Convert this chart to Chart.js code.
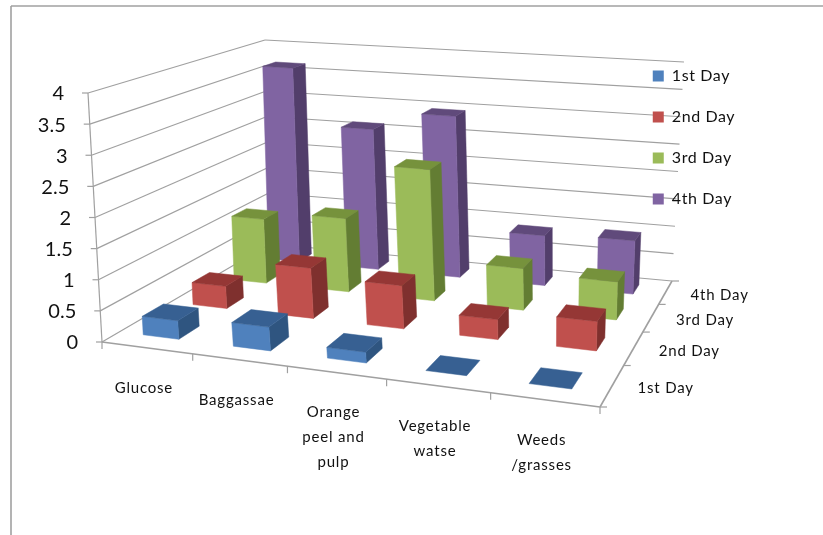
<!DOCTYPE html>
<html>
<head>
<meta charset="utf-8">
<title>Days per substrate</title>
<script src="https://cdn.jsdelivr.net/npm/chart.js@4"></script>
<style>
    html, body { margin: 0; background: #fff; }
    canvas { display: block; }
</style>
</head>
<body>
<canvas id="chart" width="823" height="535"></canvas>
<script>
const categories = [["Glucose"], ["Baggassae"], ["Orange", "peel and", "pulp"], ["Vegetable", "watse"], ["Weeds", "/grasses"]];
const dayLabels = ["1st Day", "2nd Day", "3rd Day", "4th Day"];
const firstDay = [0.3, 0.38, 0.17, 0, 0];
const secondDay = [0.38, 0.85, 0.72, 0.33, 0.48];
const thirdDay = [1.15, 1.3, 2.3, 0.72, 0.65];
const fourthDay = [3.65, 2.6, 2.95, 0.9, 0.95];
const dayValues = [firstDay, secondDay, thirdDay, fourthDay];

const frontColors = ["#4f81bd", "#c0504d", "#9bbb59", "#8064a2"];
const topColors = ["#376092", "#953735", "#76923c", "#604a7b"];
const sideColors = ["#2f5580", "#7f302e", "#637d33", "#523e6b"];

const font = "Lato, Carlito, sans-serif";
const gridColor = "#a0a0a0";

// box corners, order: front left, front right, back right, back left
const floorQuad = [[102, 342], [600, 407], [672, 281], [270, 244]];
const ceilQuad = [[88, 93], [610, 143], [684, 62], [265, 40]];
const barShare = 0.4;
const barNudge = -0.006;
const perspective = 0.75;
const depthBias = 0.2;

// unit square to quad homography, eased towards a plain bilinear patch
function makeWarp(q) {
    const [x0, y0] = q[0], [x1, y1] = q[1], [x2, y2] = q[2], [x3, y3] = q[3];
    const dx1 = x1 - x2, dx2 = x3 - x2, sx = x0 - x1 + x2 - x3;
    const dy1 = y1 - y2, dy2 = y3 - y2, sy = y0 - y1 + y2 - y3;
    const det = dx1 * dy2 - dx2 * dy1;
    const g = (sx * dy2 - dx2 * sy) / det;
    const h = (dx1 * sy - sx * dy1) / det;
    const a = x1 - x0 + g * x1, b = x3 - x0 + h * x3;
    const d = y1 - y0 + g * y1, e = y3 - y0 + h * y3;
    return function(u, depth) {
        // rows crowd together towards the back wall
        const v = depth * (1 + depthBias) / (1 + depthBias * depth);
        const w = g * u + h * v + 1;
        const bx = (1 - v) * ((1 - u) * x0 + u * x1) + v * ((1 - u) * x3 + u * x2);
        const by = (1 - v) * ((1 - u) * y0 + u * y1) + v * ((1 - u) * y3 + u * y2);
        return [
            perspective * (a * u + b * v + x0) / w + (1 - perspective) * bx,
            perspective * (d * u + e * v + y0) / w + (1 - perspective) * by
        ];
    };
}
const floorAt = makeWarp(floorQuad);
const ceilAt = makeWarp(ceilQuad);

function project(u, v, t) {
    const f = floorAt(u, v), c = ceilAt(u, v);
    return [f[0] + (c[0] - f[0]) * t, f[1] + (c[1] - f[1]) * t];
}

function poly(ctx, pts, color) {
    ctx.beginPath();
    pts.forEach((p, i) => i ? ctx.lineTo(p[0], p[1]) : ctx.moveTo(p[0], p[1]));
    ctx.closePath();
    ctx.fillStyle = color;
    ctx.strokeStyle = color;
    ctx.lineWidth = 0.5;
    ctx.fill();
    ctx.stroke();
}

function line(ctx, a, b, width) {
    ctx.beginPath();
    ctx.moveTo(a[0], a[1]);
    ctx.lineTo(b[0], b[1]);
    ctx.lineWidth = width || 1.2;
    ctx.strokeStyle = gridColor;
    ctx.stroke();
}

// position along each scale as 0..1
const xShare = (chart, i) => { const s = chart.scales.x; return (s.getPixelForValue(i) - s.left) / s.width; };
const zShare = (chart, i) => { const s = chart.scales.depth; return (s.getPixelForValue(i) - s.left) / s.width; };
const yShare = (chart, val) => { const s = chart.scales.y; return (s.bottom - s.getPixelForValue(val)) / s.height; };

const box3d = {
    id: "box3d",
    // frame, walls and floor go under everything else
    beforeDraw(chart) {
        const ctx = chart.ctx;
        ctx.save();
        line(ctx, [11, 6], [823, 6], 1.6);
        line(ctx, [11, 6], [11, 535], 1.6);
        chart.scales.y.ticks.forEach(tick => {
            const t = yShare(chart, tick.value);
            const a = project(0, 0, t), b = project(0, 1, t), c = project(1, 1, t);
            line(ctx, a, b);
            line(ctx, b, c);
            line(ctx, [a[0] - 6, a[1]], a);
        });
        line(ctx, project(0, 0, 0), project(0, 0, 1));
        line(ctx, project(0, 0, 0), project(1, 0, 0), 1.6);
        line(ctx, project(1, 0, 0), project(1, 1, 0), 1.6);
        for (let i = 0; i <= categories.length; i++) {
            const p = project(i / categories.length, 0, 0);
            line(ctx, p, [p[0], p[1] + 7]);
        }
        for (let i = 0; i <= dayLabels.length; i++) {
            const p = project(1, i / dayLabels.length, 0);
            line(ctx, p, [p[0] + 7, p[1]]);
        }
        ctx.restore();
        // legend text follows with the same tracking as the axis labels
        ctx.letterSpacing = "0.6px";
    },
    // bars are painted back row first, left to right, in place of the flat ones
    beforeDatasetsDraw(chart) {
        const ctx = chart.ctx;
        const du = barShare / categories.length / 2;
        const dv = barShare / dayLabels.length / 2;
        ctx.save();
        for (let s = dayLabels.length - 1; s >= 0; s--) {
            const v = zShare(chart, s);
            chart.data.datasets[s].data.forEach((val, i) => {
                const u = xShare(chart, i) + barNudge;
                const t = yShare(chart, val);
                const u0 = u - du, u1 = u + du, v0 = v - dv, v1 = v + dv;
                if (val > 0) {
                    poly(ctx, [project(u1, v0, 0), project(u1, v1, 0), project(u1, v1, t), project(u1, v0, t)], sideColors[s]);
                    poly(ctx, [project(u0, v0, 0), project(u1, v0, 0), project(u1, v0, t), project(u0, v0, t)], frontColors[s]);
                }
                poly(ctx, [project(u0, v0, t), project(u1, v0, t), project(u1, v1, t), project(u0, v1, t)], topColors[s]);
            });
        }
        ctx.restore();
        return false;
    },
    afterDraw(chart) {
        const ctx = chart.ctx;
        ctx.save();
        ctx.fillStyle = "#111";
        ctx.textBaseline = "middle";

        ctx.letterSpacing = "0px";
        ctx.font = "20px " + font;
        ctx.textAlign = "right";
        chart.scales.y.ticks.forEach(tick => {
            const p = project(0, 0, yShare(chart, tick.value));
            ctx.fillText(String(tick.value), p[0] - 24, p[1] + 1);
        });

        ctx.font = "15px " + font;
        ctx.letterSpacing = "0.8px";
        ctx.textAlign = "center";
        categories.forEach((lines, i) => {
            const p = project(xShare(chart, i), 0, 0);
            lines.forEach((txt, n) => ctx.fillText(txt, p[0] - 3, p[1] + 40 + n * 25));
        });

        ctx.textAlign = "left";
        dayLabels.forEach((txt, i) => {
            const p = project(1, zShare(chart, i), 0);
            ctx.fillText(txt, p[0] + 25, p[1] + 3);
        });
        ctx.restore();
        ctx.letterSpacing = "0px";
    }
};

new Chart(document.getElementById("chart"), {
    type: "bar",
    data: {
        labels: categories,
        datasets: dayLabels.map((label, s) => ({
            label: label,
            data: dayValues[s],
            backgroundColor: frontColors[s]
        }))
    },
    options: {
        responsive: false,
        animation: false,
        layout: { padding: { top: 43, right: 82 } },
        scales: {
            x: { display: false, offset: true },
            y: { display: false, min: 0, max: 4, ticks: { stepSize: 0.5 } },
            depth: { type: "category", axis: "x", labels: dayLabels, offset: true, display: false, ticks: { autoSkip: false } }
        },
        plugins: {
            tooltip: { enabled: false },
            legend: {
                position: "right",
                align: "start",
                labels: {
                    boxWidth: 11,
                    boxHeight: 11,
                    padding: 25,
                    color: "#111",
                    font: { family: font, size: 16 }
                }
            }
        }
    },
    plugins: [box3d]
});
</script>
</body>
</html>
